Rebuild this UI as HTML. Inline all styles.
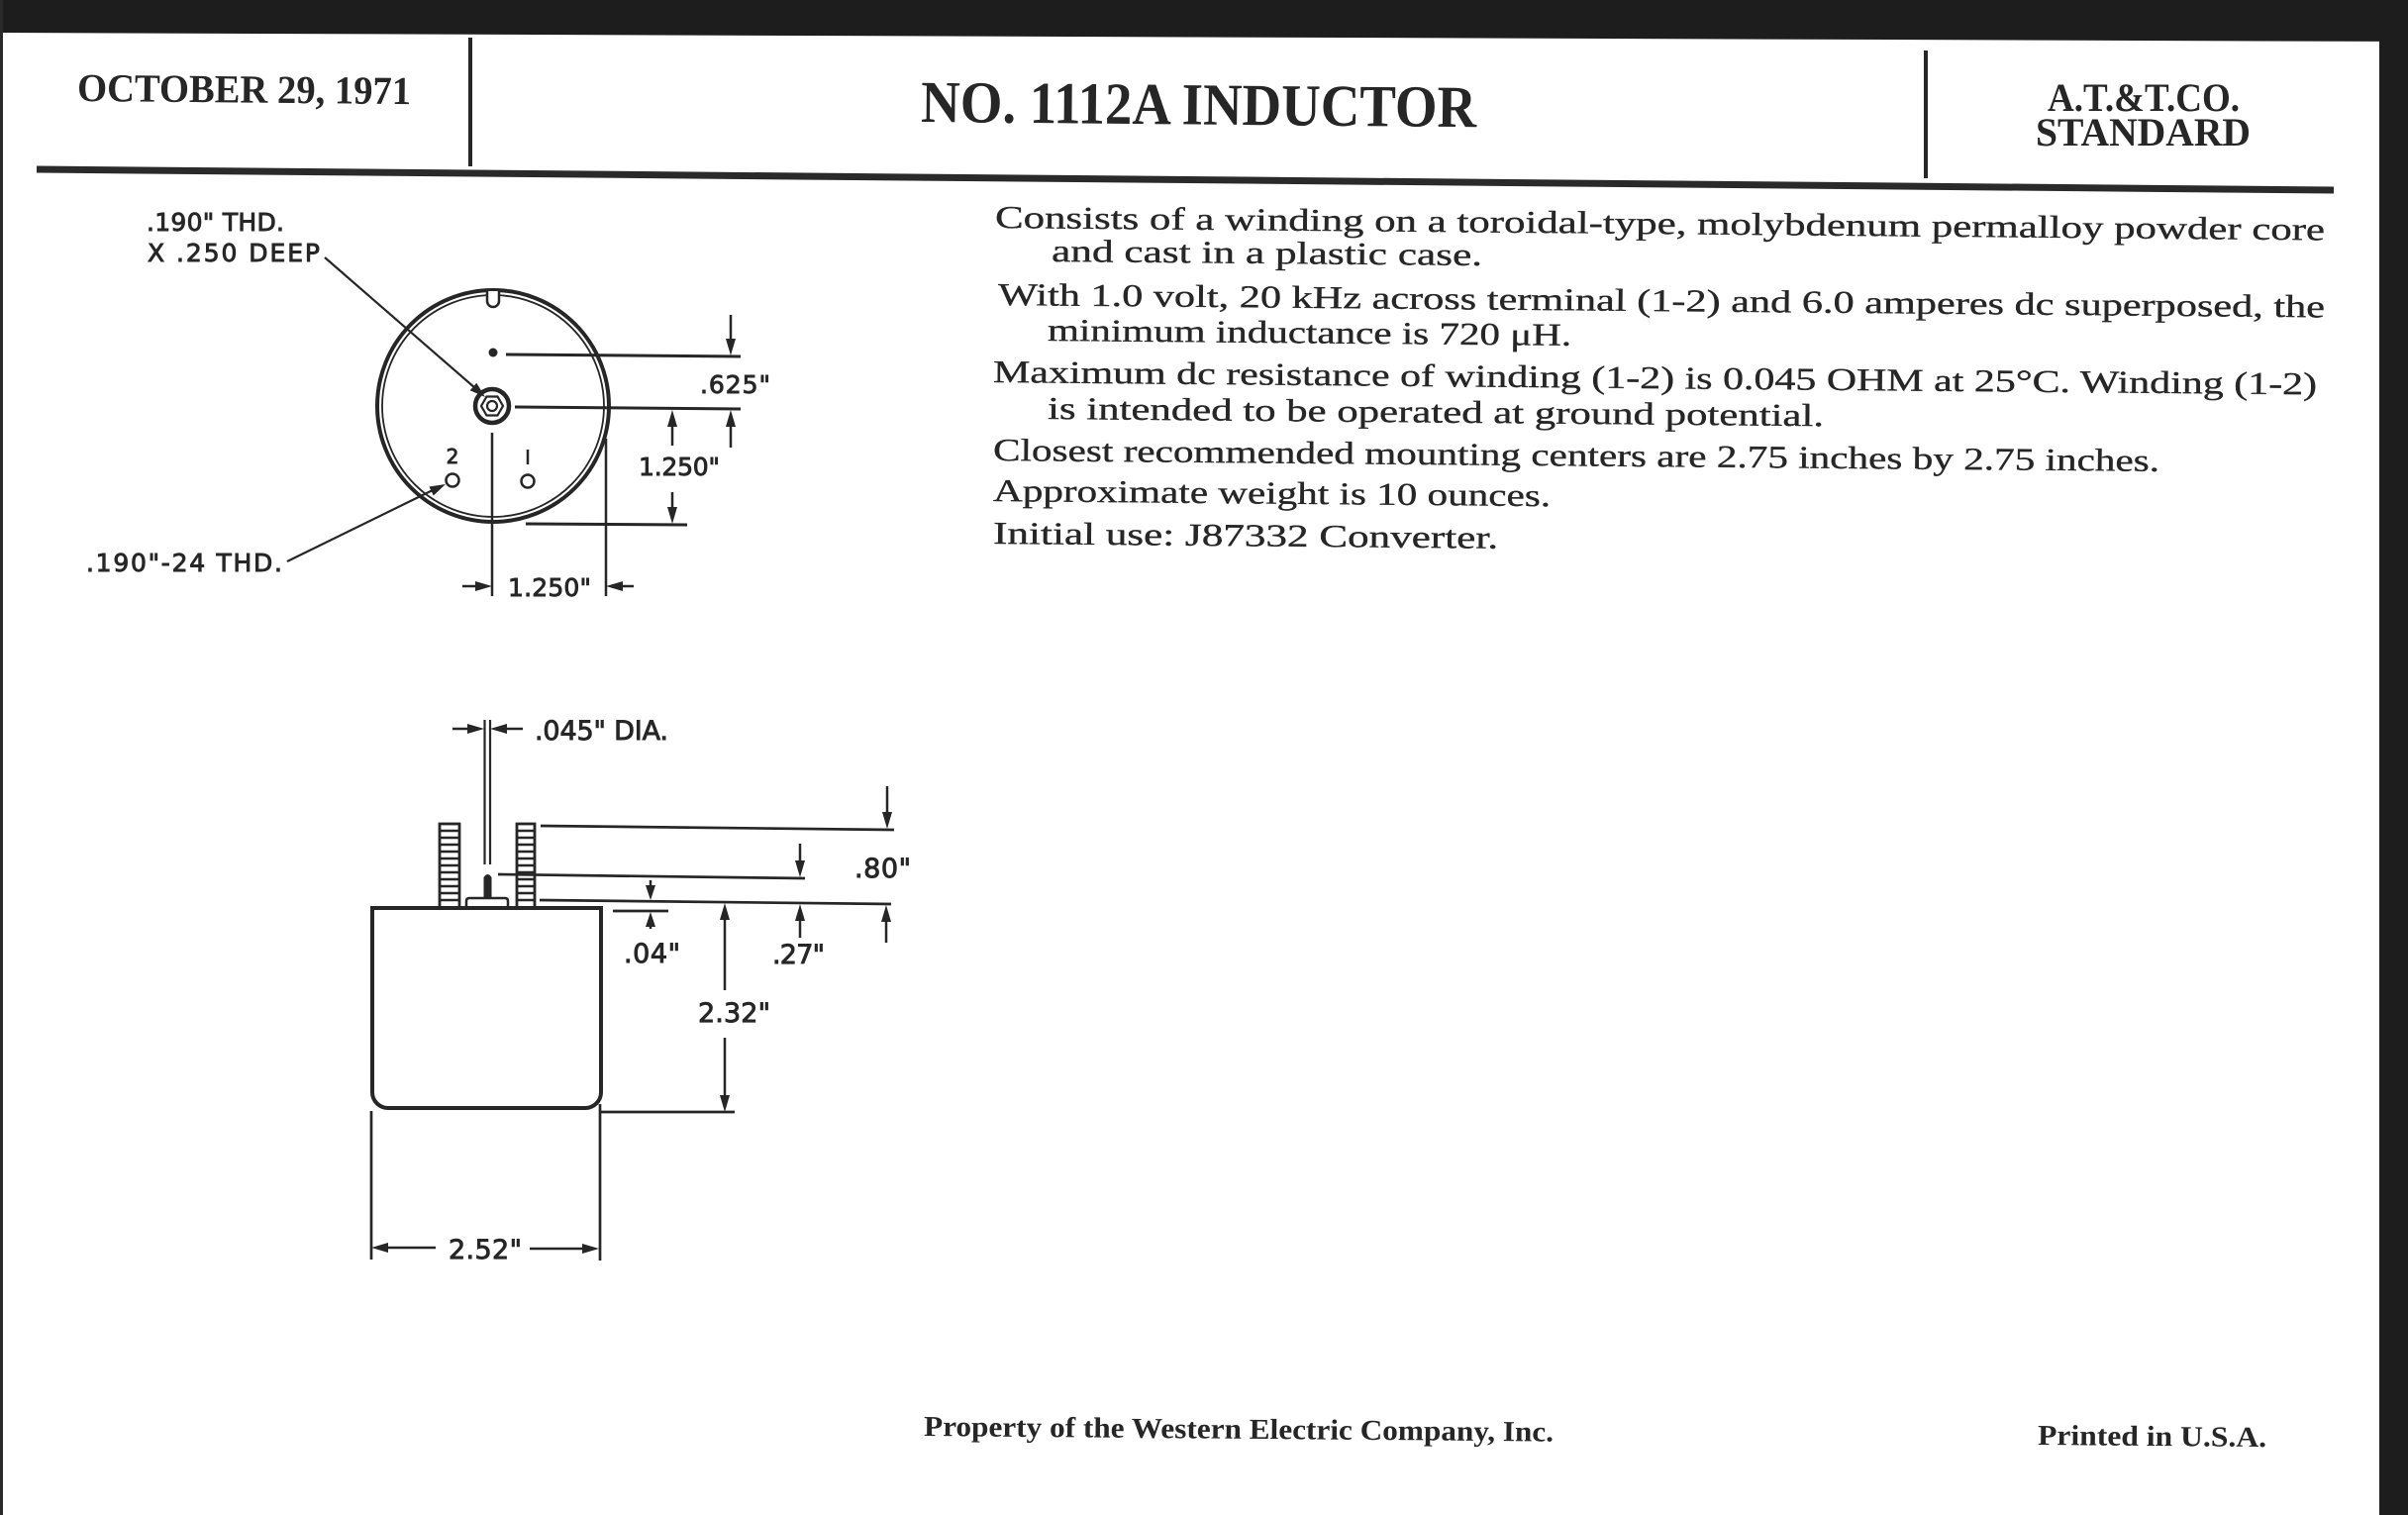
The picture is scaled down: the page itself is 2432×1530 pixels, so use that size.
<!DOCTYPE html>
<html>
<head>
<meta charset="utf-8">
<style>
html,body{margin:0;padding:0;background:#fff;}
svg{display:block;}
.hd{font-family:"Liberation Serif",serif;font-weight:bold;fill:#262626;}
.bd{font-family:"Liberation Serif",serif;fill:#262626;font-size:32px;stroke:#262626;stroke-width:0.35;}
.lb{font-family:"DejaVu Sans","Liberation Sans",sans-serif;fill:#262626;stroke:#262626;stroke-width:0.9;}
</style>
</head>
<body>
<svg width="2432" height="1530" viewBox="0 0 2432 1530" xmlns="http://www.w3.org/2000/svg">
<rect x="0" y="0" width="2432" height="1530" fill="#ffffff"/>

<!-- scan borders -->
<polygon points="0,0 2432,0 2432,42 0,33" fill="#1d1d1d"/>
<rect x="2403" y="0" width="29" height="1530" fill="#1d1d1d"/>
<rect x="0" y="0" width="3" height="1530" fill="#2a2a2a"/>

<!-- header -->
<text class="hd" x="78" y="102" font-size="40" textLength="337" lengthAdjust="spacingAndGlyphs" transform="rotate(0.53 78 102)">OCTOBER 29, 1971</text>
<line x1="475" y1="38" x2="475" y2="168" stroke="#262626" stroke-width="4"/>
<text class="hd" x="930" y="123" font-size="60" textLength="561" lengthAdjust="spacingAndGlyphs" transform="rotate(0.53 930 123)">NO. 1112A INDUCTOR</text>
<line x1="1945" y1="51" x2="1945" y2="180" stroke="#262626" stroke-width="4"/>
<text class="hd" x="2068" y="112" font-size="40" textLength="194" lengthAdjust="spacingAndGlyphs">A.T.&amp;T.CO.</text>
<text class="hd" x="2056" y="147" font-size="40" textLength="217" lengthAdjust="spacingAndGlyphs">STANDARD</text>
<line x1="37" y1="171" x2="2357" y2="192" stroke="#2a2a2a" stroke-width="7"/>

<!-- body text -->
<text class="bd" x="1005" y="230" textLength="1343" lengthAdjust="spacingAndGlyphs" transform="rotate(0.53 1005 230)">Consists of a winding on a toroidal-type, molybdenum permalloy powder core</text>
<text class="bd" x="1062" y="264" textLength="435" lengthAdjust="spacingAndGlyphs" transform="rotate(0.53 1062 264)">and cast in a plastic case.</text>
<text class="bd" x="1008" y="308" textLength="1340" lengthAdjust="spacingAndGlyphs" transform="rotate(0.53 1008 308)">With 1.0 volt, 20 kHz across terminal (1-2) and 6.0 amperes dc superposed, the</text>
<text class="bd" x="1058" y="344" textLength="529" lengthAdjust="spacingAndGlyphs" transform="rotate(0.53 1058 344)">minimum inductance is 720 μH.</text>
<text class="bd" x="1003" y="386" textLength="1337" lengthAdjust="spacingAndGlyphs" transform="rotate(0.53 1003 386)">Maximum dc resistance of winding (1-2) is 0.045 OHM at 25°C. Winding (1-2)</text>
<text class="bd" x="1058" y="423" textLength="784" lengthAdjust="spacingAndGlyphs" transform="rotate(0.53 1058 423)">is intended to be operated at ground potential.</text>
<text class="bd" x="1003" y="465" textLength="1178" lengthAdjust="spacingAndGlyphs" transform="rotate(0.53 1003 465)">Closest recommended mounting centers are 2.75 inches by 2.75 inches.</text>
<text class="bd" x="1003" y="506" textLength="563" lengthAdjust="spacingAndGlyphs" transform="rotate(0.53 1003 506)">Approximate weight is 10 ounces.</text>
<text class="bd" x="1003" y="549" textLength="510" lengthAdjust="spacingAndGlyphs" transform="rotate(0.53 1003 549)">Initial use:  J87332 Converter.</text>

<!-- ===== top view drawing ===== -->
<g stroke="#262626" fill="none" stroke-linecap="butt">
  <circle cx="498" cy="410" r="117" stroke-width="4"/>
  <circle cx="498" cy="410" r="112" stroke-width="1.8"/>
  <path d="M492,294 v10 a6,6 0 0 0 12,0 v-10" stroke-width="2.5" fill="#fff"/>
  <circle cx="498" cy="356" r="4.5" fill="#262626" stroke="none"/>
  <line x1="511" y1="358" x2="748" y2="360" stroke-width="3"/>
  <circle cx="497" cy="410" r="17" stroke-width="4.5"/>
  <polygon points="508,410 502.5,419.5 491.5,419.5 486,410 491.5,400.5 502.5,400.5" stroke-width="2.2"/>
  <circle cx="497" cy="410" r="5" stroke-width="2.2"/>
  <line x1="520" y1="411" x2="748" y2="413" stroke-width="3"/>
  <!-- .625 -->
  <line x1="738" y1="318" x2="738" y2="345" stroke-width="2.5"/>
  <line x1="738" y1="452" x2="738" y2="428" stroke-width="2.5"/>
  <!-- 1.250 vertical -->
  <line x1="679" y1="450" x2="679" y2="428" stroke-width="2.5"/>
  <line x1="679" y1="497" x2="679" y2="514" stroke-width="2.5"/>
  <line x1="531" y1="529" x2="694" y2="530" stroke-width="3"/>
  <!-- 1.250 horizontal -->
  <line x1="497" y1="437" x2="497" y2="602" stroke-width="2.5"/>
  <line x1="612" y1="443" x2="612" y2="602" stroke-width="2.5"/>
  <line x1="467" y1="592" x2="482" y2="592" stroke-width="2.5"/>
  <line x1="640" y1="592" x2="627" y2="592" stroke-width="2.5"/>
  <!-- terminals -->
  <circle cx="457" cy="485" r="6.5" stroke-width="2.5"/>
  <circle cx="533" cy="486" r="6.5" stroke-width="2.5"/>
  <line x1="533" y1="454" x2="533" y2="469" stroke-width="2.5"/>
  <!-- leaders -->
  <line x1="328" y1="260" x2="480" y2="392" stroke-width="2.2"/>
  <line x1="290" y1="567" x2="437" y2="495" stroke-width="2.2"/>
</g>
<g fill="#262626">
  <polygon points="738,359 733,342 743,342"/>
  <polygon points="738,414 733,431 743,431"/>
  <polygon points="679,414 674,431 684,431"/>
  <polygon points="679,529 674,512 684,512"/>
  <polygon points="497,592 480,587 480,597"/>
  <polygon points="612,592 629,587 629,597"/>
  <polygon points="490,401 474.7,394.3 481.3,386.7"/>
  <polygon points="450,489 437.8,500.5 433.4,491.5"/>
</g>
<text class="lb" x="148" y="233" font-size="25" textLength="139" lengthAdjust="spacing">.190&quot; THD.</text>
<text class="lb" x="149" y="264" font-size="25" textLength="174" lengthAdjust="spacing">X .250 DEEP</text>
<text class="lb" x="87" y="577" font-size="25" textLength="198" lengthAdjust="spacing">.190&quot;-24 THD.</text>
<text class="lb" x="707" y="397" font-size="25" textLength="71" lengthAdjust="spacing">.625&quot;</text>
<text class="lb" x="645" y="480" font-size="25" textLength="82" lengthAdjust="spacing">1.250&quot;</text>
<text class="lb" x="513" y="602" font-size="25" textLength="84" lengthAdjust="spacing">1.250&quot;</text>
<text class="lb" x="457" y="468" font-size="20" text-anchor="middle">2</text>

<!-- ===== side view drawing ===== -->
<g stroke="#262626" fill="none">
  <!-- case -->
  <path d="M376,917 L607,917 L607,1103 A16,16 0 0 1 591,1119 L392,1119 A16,16 0 0 1 376,1103 Z" stroke-width="4"/>
  <!-- left stud -->
  <rect x="444" y="832" width="20" height="85" stroke-width="2.8"/>
  <g stroke-width="2.5">
    <line x1="444" y1="839" x2="464" y2="839"/><line x1="444" y1="846" x2="464" y2="846"/>
    <line x1="444" y1="853" x2="464" y2="853"/><line x1="444" y1="860" x2="464" y2="860"/>
    <line x1="444" y1="867" x2="464" y2="867"/><line x1="444" y1="874" x2="464" y2="874"/>
    <line x1="444" y1="881" x2="464" y2="881"/><line x1="444" y1="888" x2="464" y2="888"/>
    <line x1="444" y1="895" x2="464" y2="895"/><line x1="444" y1="902" x2="464" y2="902"/>
    <line x1="444" y1="909" x2="464" y2="909"/>
  </g>
  <!-- right stud -->
  <rect x="522" y="832" width="18" height="85" stroke-width="2.8"/>
  <g stroke-width="2.5">
    <line x1="522" y1="839" x2="540" y2="839"/><line x1="522" y1="846" x2="540" y2="846"/>
    <line x1="522" y1="853" x2="540" y2="853"/><line x1="522" y1="860" x2="540" y2="860"/>
    <line x1="522" y1="867" x2="540" y2="867"/><line x1="522" y1="874" x2="540" y2="874"/>
    <line x1="522" y1="881" x2="540" y2="881"/><line x1="522" y1="888" x2="540" y2="888"/>
    <line x1="522" y1="895" x2="540" y2="895"/><line x1="522" y1="902" x2="540" y2="902"/>
    <line x1="522" y1="909" x2="540" y2="909"/>
  </g>
  <!-- base -->
  <path d="M471,917 L471,910 Q471,907 474,907 L510,907 Q513,907 513,910 L513,917" stroke-width="2.5"/>
  <!-- wire -->
  <line x1="489.5" y1="727" x2="489.5" y2="873" stroke-width="2.2"/>
  <line x1="495" y1="727" x2="495" y2="873" stroke-width="2.2"/>
  <line x1="457" y1="736" x2="476" y2="736" stroke-width="2.5"/>
  <line x1="528" y1="736" x2="508" y2="736" stroke-width="2.5"/>
  <!-- extension lines -->
  <line x1="546" y1="834" x2="903" y2="838" stroke-width="2.7"/>
  <line x1="503" y1="883" x2="813" y2="887" stroke-width="2.7"/>
  <line x1="545" y1="909" x2="900" y2="913" stroke-width="2.7"/>
  <line x1="619" y1="920" x2="675" y2="920" stroke-width="2.7"/>
  <line x1="606" y1="1123" x2="742" y2="1123" stroke-width="2.7"/>
  <line x1="375" y1="1122" x2="375" y2="1272" stroke-width="2.7"/>
  <line x1="606" y1="1115" x2="606" y2="1273" stroke-width="2.7"/>
  <!-- dimension shafts -->
  <line x1="896" y1="794" x2="896" y2="822" stroke-width="2.5"/>
  <line x1="895" y1="952" x2="895" y2="929" stroke-width="2.5"/>
  <line x1="808" y1="852" x2="808" y2="872" stroke-width="2.5"/>
  <line x1="657" y1="889" x2="657" y2="896" stroke-width="2.5"/>
  <line x1="657" y1="938" x2="657" y2="934" stroke-width="2.5"/>
  <line x1="808" y1="947" x2="808" y2="928" stroke-width="2.5"/>
  <line x1="732" y1="1000" x2="732" y2="927" stroke-width="2.5"/>
  <line x1="732" y1="1048" x2="732" y2="1108" stroke-width="2.5"/>
  <line x1="440" y1="1260" x2="390" y2="1260" stroke-width="2.5"/>
  <line x1="535" y1="1261" x2="590" y2="1261" stroke-width="2.5"/>
</g>
<g fill="#262626">
  <path d="M488.5,907 L488.5,886 Q492.5,880 496.5,886 L496.5,907 Z"/>
  <polygon points="489,736 472,731 472,741"/>
  <polygon points="495,736 512,731 512,741"/>
  <polygon points="896,837 891,820 901,820"/>
  <polygon points="895,914 890,931 900,931"/>
  <polygon points="808,886 803,869 813,869"/>
  <polygon points="657,909 652,894 662,894"/>
  <polygon points="657,921 652,936 662,936"/>
  <polygon points="808,913 803,930 813,930"/>
  <polygon points="732,912 727,929 737,929"/>
  <polygon points="732,1123 727,1106 737,1106"/>
  <polygon points="375,1260 392,1255 392,1265"/>
  <polygon points="605,1261 588,1256 588,1266"/>
</g>
<text class="lb" x="540" y="747" font-size="27" textLength="135" lengthAdjust="spacing">.045&quot; DIA.</text>
<text class="lb" x="863" y="886" font-size="27" textLength="57" lengthAdjust="spacing">.80&quot;</text>
<text class="lb" x="630" y="972" font-size="27" textLength="57" lengthAdjust="spacing">.04&quot;</text>
<text class="lb" x="780" y="973" font-size="27" textLength="53" lengthAdjust="spacing">.27&quot;</text>
<text class="lb" x="705" y="1032" font-size="27" textLength="73" lengthAdjust="spacing">2.32&quot;</text>
<text class="lb" x="453" y="1271" font-size="27" textLength="74" lengthAdjust="spacing">2.52&quot;</text>

<!-- footer -->
<text class="hd" x="933" y="1450" font-size="29" textLength="636" lengthAdjust="spacingAndGlyphs" transform="rotate(0.5 933 1450)">Property of the Western Electric Company, Inc.</text>
<text class="hd" x="2058" y="1459" font-size="29" textLength="231" lengthAdjust="spacingAndGlyphs" transform="rotate(0.5 2058 1459)">Printed in U.S.A.</text>
</svg>
</body>
</html>
